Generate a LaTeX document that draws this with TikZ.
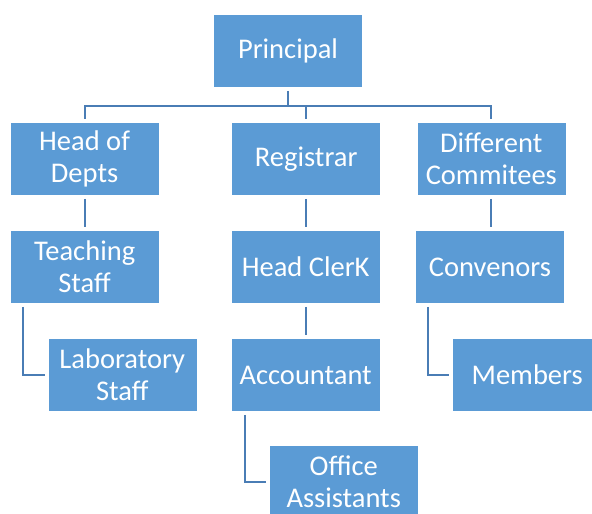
\documentclass[tikz,border=0pt]{standalone}
\usepackage{fontspec}
\setmainfont{Carlito}
\definecolor{boxblue}{HTML}{5B9BD5}
\definecolor{lineblue}{HTML}{4A7DB5}
\tikzset{
  orgbox/.style={rectangle, fill=boxblue, draw=white, line width=0.6pt,
    minimum width=149pt, minimum height=73pt, inner sep=0pt,
    align=center, text=white,
    font=\fontsize{28.5}{32}\selectfont},
  conn/.style={draw=lineblue, line width=2pt, shorten <=3pt, shorten >=3pt}
}
\begin{document}
\begin{tikzpicture}[x=1pt,y=-1pt]
\clip (0,0) rectangle (592,514);
\fill[white] (0,0) rectangle (592,514);
\node[orgbox] (P)  at (288,51)    {Principal};
\node[orgbox] (H)  at (84.6,159)  {Head of\\Depts};
\node[orgbox] (R)  at (306.2,159) {Registrar};
\node[orgbox] (D)  at (491.3,159) {Different\\Commitees};
\node[orgbox] (T)  at (84.6,267)  {Teaching\\Staff};
\node[orgbox] (HC) at (305.7,267) {Head ClerK};
\node[orgbox] (C)  at (490,267)   {Convenors};
\node[orgbox] (L)  at (122.3,375) {Laboratory\\Staff};
\node[orgbox] (A)  at (305.7,375) {Accountant};
\node[orgbox] (M)  at (527.2,375) {Members};
\node[orgbox] (O)  at (343.7,481.5) {Office\\Assistants};
\coordinate (bus) at (288,106);
\draw[conn, shorten >=0pt] (P.south) -- (bus);
\draw[conn, shorten <=0pt] (bus) -| (H.north);
\draw[conn, shorten <=0pt] (bus) -| (R.north);
\draw[conn, shorten <=0pt] (bus) -| (D.north);
\draw[conn] (H.south) -- (H.south |- T.north);
\draw[conn] (R.south) -- (R.south |- HC.north);
\draw[conn] (D.south) -- (D.south |- C.north);
\draw[conn] (HC.south) -- (HC.south |- A.north);
\draw[conn] ([xshift=13.5pt]T.south west) |- (L.west);
\draw[conn] ([xshift=14.3pt]A.south west) |- (O.west);
\draw[conn] ([xshift=12.3pt]C.south west) |- (M.west);
\end{tikzpicture}
\end{document}
